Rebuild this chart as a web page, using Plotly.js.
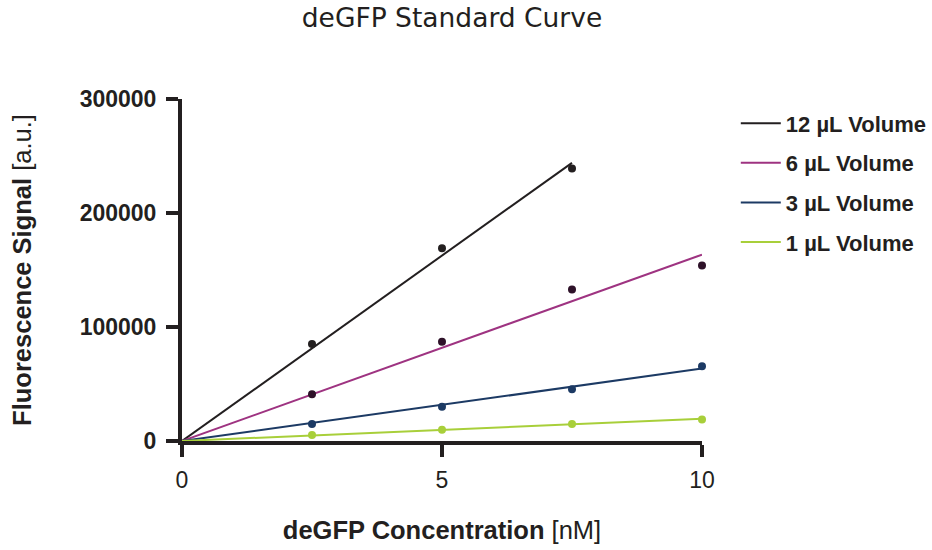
<!DOCTYPE html>
<html><head><meta charset="utf-8">
<script src="https://cdn.plot.ly/plotly-3.0.1.min.js"></script>
<style>html,body{margin:0;padding:0;background:#fff}#chart{width:932px;height:550px}</style>
</head><body><div id="chart"></div>
<script>
// Measured points
const conc12 = [2.5, 5, 7.5];
const sig12 = [85000, 169000, 239000];
const conc = [2.5, 5, 7.5, 10];
const sig6 = [41000, 87000, 133000, 154000];
const sig3 = [15000, 30000, 45500, 65500];
const sig1 = [5300, 9800, 15000, 18800];
// Fit lines (endpoints)
const fit12X = [0, 7.5], fit12Y = [0, 244000];
const fitX = [0, 10];
const fit6Y = [0, 163500];
const fit3Y = [0, 63500];
const fit1Y = [0, 19500];
const names = ['12 µL Volume', '6 µL Volume', '3 µL Volume', '1 µL Volume'];
const lineColors = ['#231f20', '#9e3381', '#1c3a64', '#a8cf3a'];
const dotColors = ['#231f20', '#2e1229', '#1c3a64', '#a8cf3a'];

const fits = [[fit12X, fit12Y], [fitX, fit6Y], [fitX, fit3Y], [fitX, fit1Y]];
const pts = [[conc12, sig12], [conc, sig6], [conc, sig3], [conc, sig1]];
const traces = [];
fits.forEach((f, i) => {
  traces.push({x: f[0], y: f[1], type: 'scatter', mode: 'lines', name: names[i],
    line: {color: lineColors[i], width: 2}, legendgroup: 'g' + i, cliponaxis: false});
});
pts.forEach((p, i) => {
  traces.push({x: p[0], y: p[1], type: 'scatter', mode: 'markers', showlegend: false,
    marker: {color: dotColors[i], size: 8}, cliponaxis: false, legendgroup: 'g' + i});
});

const FONT = 'Liberation Sans, Arial, sans-serif';
const layout = {
  width: 932, height: 550,
  margin: {l: 182, r: 230, t: 99, b: 109, autoexpand: false},
  paper_bgcolor: '#fff', plot_bgcolor: '#fff',
  showlegend: true,
  title: {text: 'deGFP Standard Curve', x: 0.485, xanchor: 'center', y: 0.967, yanchor: 'middle',
    font: {family: 'DejaVu Sans, sans-serif', size: 26.5, color: '#231f20'}},
  xaxis: {range: [0, 10], tickvals: [0, 5, 10], ticktext: ['0', '5', '10'],
    showgrid: false, zeroline: false, showline: true, linecolor: '#231f20', linewidth: 4,
    ticks: 'outside', ticklen: 12, tickwidth: 4, tickcolor: '#231f20', ticklabelstandoff: 3,
    tickfont: {family: FONT, size: 23, color: '#231f20'},
    title: {text: '<b>deGFP Concentration</b> [nM]', standoff: 31,
      font: {family: FONT, size: 25.5, color: '#231f20'}}},
  yaxis: {range: [0, 300000], tickvals: [0, 100000, 200000, 300000],
    ticktext: ['<b>0</b>', '<b>100000</b>', '<b>200000</b>', '<b>300000</b>'],
    showgrid: false, zeroline: false, showline: true, linecolor: '#231f20', linewidth: 4,
    ticks: 'outside', ticklen: 12, tickwidth: 4, tickcolor: '#231f20', ticklabelstandoff: 5,
    tickfont: {family: FONT, size: 23, color: '#231f20'},
    title: {text: '<b>Fluorescence Signal</b> [a.u.]', standoff: 42,
      font: {family: FONT, size: 25.5, color: '#231f20'}}},
  legend: {x: 1.065, xanchor: 'left', y: 0.99, yanchor: 'top', traceorder: 'grouped',
    tracegroupgap: 8, itemwidth: 40, bgcolor: 'rgba(0,0,0,0)',
    font: {family: FONT, size: 22, color: '#231f20', weight: 'bold'}}
};
Plotly.newPlot('chart', traces, layout, {displayModeBar: false, staticPlot: true});
</script></body></html>
